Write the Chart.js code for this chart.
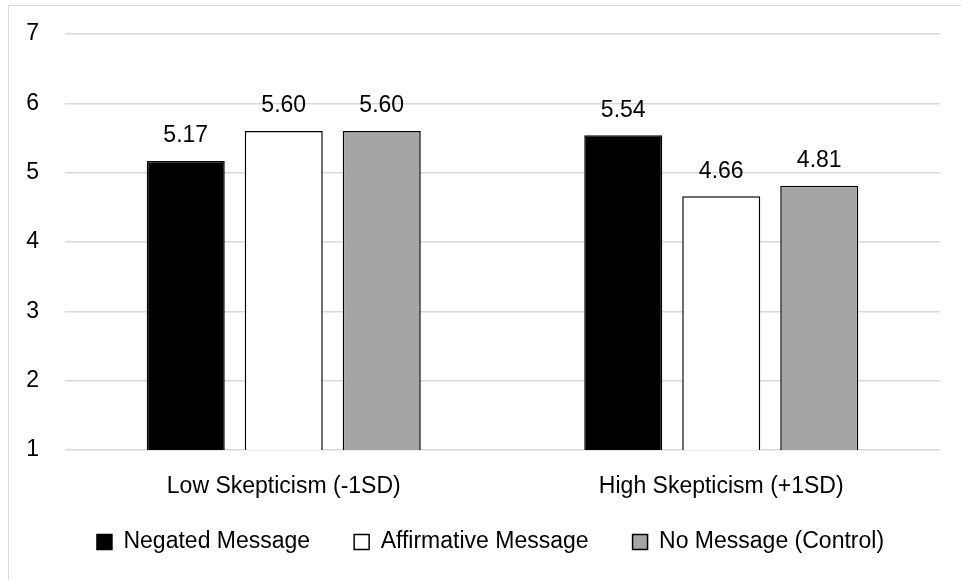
<!DOCTYPE html>
<html>
<head>
<meta charset="utf-8">
<script src="https://cdn.jsdelivr.net/npm/chart.js@4"></script>
<style>
  html, body { margin: 0; padding: 0; background: #fff; overflow: hidden; }
  #frame { position: absolute; left: 8px; top: 5px; width: 1000px; height: 620px; border: 1px solid #d9d9d9; }
  #wrap { position: absolute; left: 0; top: 0; width: 961px; height: 580px; }
</style>
</head>
<body>
<div id="frame"></div>
<div id="wrap"><canvas id="chart" width="961" height="580"></canvas></div>
<script>
// categories and series
const groups = ['Low Skepticism (-1SD)', 'High Skepticism (+1SD)'];
const seriesNames = ['Negated Message', 'Affirmative Message', 'No Message (Control)'];
const negated = [5.17, 5.54];
const affirmative = [5.60, 4.66];
const noMessage = [5.60, 4.81];
const yTicks = [1, 2, 3, 4, 5, 6, 7];

const FONT = 'Liberation Sans, Arial, sans-serif';
const FS = 23;

// value labels above each bar
const barLabels = {
    id: 'barLabels',
    afterDatasetsDraw(chart) {
        const ctx = chart.ctx;
        ctx.save();
        ctx.font = FS + 'px ' + FONT;
        ctx.fillStyle = '#000';
        ctx.textAlign = 'center';
        ctx.textBaseline = 'middle';
        chart.data.datasets.forEach((ds, i) => {
            chart.getDatasetMeta(i).data.forEach((bar, j) => {
                ctx.fillText(ds.data[j].toFixed(2), bar.x, bar.y - 25);
            });
        });
        ctx.restore();
    }
};

// nudge the legend so it sits where the original has it
const legendNudge = {
    id: 'legendNudge',
    afterLayout(chart) {
        const lg = chart.legend;
        lg.left = 41;
        lg.top -= 16.5;
        lg.bottom -= 16.5;
    }
};

new Chart(document.getElementById('chart'), {
    type: 'bar',
    data: {
        labels: groups,
        datasets: [
            { label: seriesNames[0], data: negated, backgroundColor: '#000000', borderColor: '#000000', borderWidth: 1.5 },
            { label: seriesNames[1], data: affirmative, backgroundColor: '#ffffff', borderColor: '#000000', borderWidth: 1.5 },
            { label: seriesNames[2], data: noMessage, backgroundColor: '#a5a5a5', borderColor: '#000000', borderWidth: 1.5 }
        ]
    },
    options: {
        responsive: false,
        animation: false,
        categoryPercentage: 0.672,
        barPercentage: 0.796,
        layout: { padding: { left: 0, right: 21, top: 34, bottom: 0 } },
        plugins: {
            tooltip: { enabled: false },
            legend: {
                position: 'bottom',
                labels: {
                    boxWidth: 15,
                    boxHeight: 15,
                    padding: 44,
                    color: '#000',
                    font: { family: FONT, size: FS }
                }
            }
        },
        scales: {
            x: {
                grid: { display: false },
                border: { display: false },
                ticks: { color: '#000', padding: 15, font: { family: FONT, size: FS } },
                afterFit(scale) { scale.height = 53; }
            },
            y: {
                min: yTicks[0],
                max: yTicks[yTicks.length - 1],
                afterBuildTicks(scale) { scale.ticks = yTicks.map(v => ({ value: v })); },
                grid: { color: '#d9d9d9', lineWidth: 1.5, drawTicks: false },
                border: { display: false },
                ticks: { color: '#000', padding: 26, font: { family: FONT, size: FS } },
                afterFit(scale) {
                    scale.width = 65;
                    scale.paddingTop = 0;
                    scale.paddingBottom = 0;
                }
            }
        }
    },
    plugins: [barLabels, legendNudge]
});
</script>
</body>
</html>
